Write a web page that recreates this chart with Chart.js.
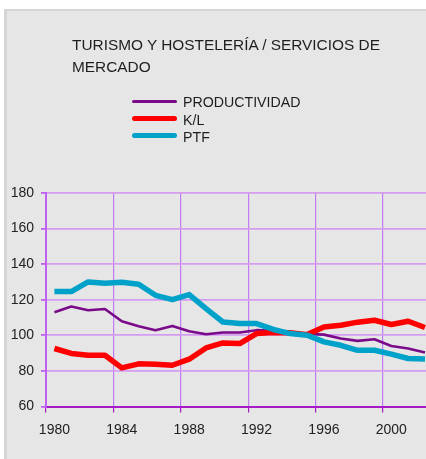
<!DOCTYPE html>
<html>
<head>
<meta charset="utf-8">
<script src="https://cdn.jsdelivr.net/npm/chart.js@4.4.1/dist/chart.umd.min.js"></script>
<style>
  html, body { margin: 0; padding: 0; background: #ffffff; overflow: hidden; width: 426px; height: 459px; }
  #panel { position: absolute; left: 4px; top: 9px; width: 440px; height: 460px; background: #e6e6e6;
           border-top: 2px solid #d5d5d5; border-left: 3px solid #d5d5d5; box-sizing: border-box; }
  #chartBox { position: absolute; left: 0; top: 0; width: 434px; height: 459px; }
  #title { position: absolute; left: 72px; top: 34px; width: 330px; font-family: "Liberation Sans", Arial, sans-serif;
           font-size: 15.4px; line-height: 21.6px; color: #1e1e1e; }
  .lg-line { position: absolute; left: 132px; width: 45px; border-radius: 3px; }
  .lg-text { position: absolute; left: 183px; font-family: "Liberation Sans", Arial, sans-serif; font-size: 14.2px;
             line-height: 17px; color: #1e1e1e; white-space: nowrap; }
</style>
</head>
<body>
<div id="panel"></div>
<div id="chartBox"><canvas id="c" width="434" height="459"></canvas></div>
<div id="title">TURISMO Y HOSTELERÍA / SERVICIOS DE MERCADO</div>
<div id="legend"></div>
<script>
const years = ['1980','1981','1982','1983','1984','1985','1986','1987','1988','1989','1990','1991',
               '1992','1993','1994','1995','1996','1997','1998','1999','2000','2001','2002'];
const productividad = [113.0,116.2,114.1,114.8,107.9,105.1,102.9,105.3,102.3,100.6,101.6,101.6,
                       102.9,102.5,101.5,100.8,100.4,98.2,96.9,97.8,94.0,92.6,90.3];
const kl = [92.6,89.8,88.8,88.8,81.7,84.0,83.8,83.2,86.6,92.9,95.7,95.4,
            101.0,101.6,101.4,100.4,104.7,105.7,107.4,108.5,106.1,107.9,104.4];
const ptf = [124.6,124.6,130.0,129.3,129.8,128.7,122.5,120.1,122.9,115.0,107.5,106.6,
             106.6,103.3,101.0,100.1,96.3,94.4,91.6,91.6,89.4,87.0,86.7];
const xTickLabels = ['1980','1984','1988','1992','1996','2000'];
const seriesNames = ['PRODUCTIVIDAD','K/L','PTF'];
const yMin = 60, yMax = 180, yStep = 20;

const seriesColors = ['#7a0a8a', '#ff0000', '#00a2c9'];
const seriesWidths = [2.6, 5.5, 5.5];
const legendWidths = [3, 5, 5];

// Legend (HTML text)
const legend = document.getElementById('legend');
seriesNames.forEach((name, i) => {
  const ly = 101 + 17 * i;
  const line = document.createElement('div');
  line.className = 'lg-line';
  line.style.top = (ly - legendWidths[i] / 2) + 'px';
  line.style.height = legendWidths[i] + 'px';
  line.style.background = seriesColors[i];
  legend.appendChild(line);
  const t = document.createElement('div');
  t.className = 'lg-text';
  t.style.top = (94.2 + 17.5 * i) + 'px';
  t.textContent = name;
  legend.appendChild(t);
});

const font = { family: '"Liberation Sans", Arial, sans-serif', size: 14 };
const dataSets = [productividad, kl, ptf];

new Chart(document.getElementById('c'), {
  type: 'line',
  data: {
    labels: years,
    datasets: dataSets.map((d, i) => ({
      label: seriesNames[i],
      data: d,
      borderColor: seriesColors[i],
      backgroundColor: seriesColors[i],
      borderWidth: seriesWidths[i],
      pointRadius: 0,
      tension: 0,
      fill: false,
      borderJoinStyle: 'round',
      borderCapStyle: 'butt',
      order: 2 - i
    }))
  },
  options: {
    responsive: false,
    animation: false,
    devicePixelRatio: 1,
    layout: { padding: { top: 193, left: 0, right: 0, bottom: 0 } },
    plugins: { legend: { display: false }, title: { display: false }, tooltip: { enabled: false } },
    scales: {
      x: {
        type: 'category',
        offset: true,
        afterFit: s => { s.height = 52.5; },
        grid: {
          offset: true,
          drawTicks: true,
          tickLength: 6,
          lineWidth: 1.2,
          color: ctx => (ctx.index !== undefined && ctx.index % 4 === 0) ? '#c47af2' : 'rgba(0,0,0,0)',
          tickColor: ctx => (ctx.index !== undefined && ctx.index % 4 === 0) ? '#a31cc4' : 'rgba(0,0,0,0)'
        },
        border: { display: true, color: '#a31cc4', width: 2 },
        ticks: {
          autoSkip: false,
          maxRotation: 0,
          minRotation: 0,
          padding: 9,
          color: '#222222',
          font: font,
          callback: function(v, i) {
            const l = this.getLabelForValue(v);
            return xTickLabels.includes(l) ? l : '';
          }
        }
      },
      y: {
        min: yMin,
        max: yMax,
        afterFit: s => { s.width = 46; },
        grid: {
          drawTicks: true,
          tickLength: 5,
          lineWidth: 1.8,
          color: '#d59cf3',
          tickColor: '#c060f0'
        },
        border: { display: true, color: '#c060f0', width: 2 },
        ticks: {
          stepSize: yStep,
          padding: 7,
          color: '#222222',
          font: font
        }
      }
    }
  }
});
</script>
</body>
</html>
